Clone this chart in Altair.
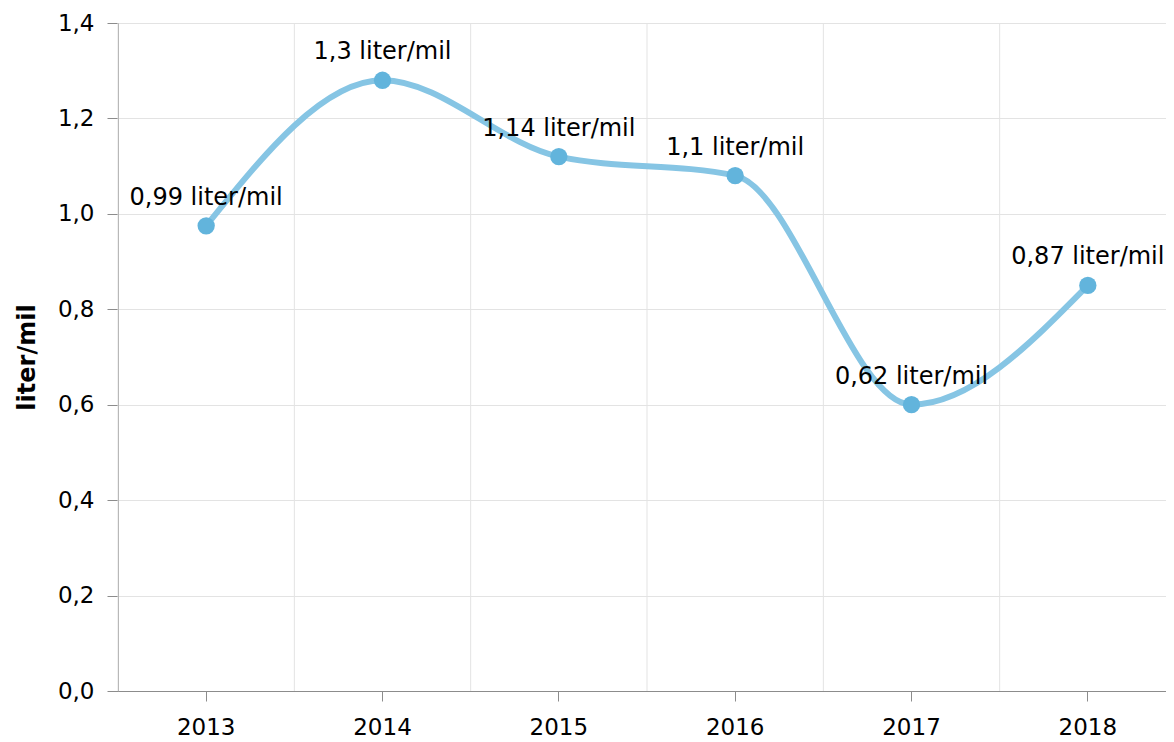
import altair as alt
import pandas as pd

years = ["2013", "2014", "2015", "2016", "2017", "2018"]
values = [0.975, 1.28, 1.12, 1.08, 0.60, 0.85]
labels = ["0,99 liter/mil", "1,3 liter/mil", "1,14 liter/mil", "1,1 liter/mil", "0,62 liter/mil", "0,87 liter/mil"]
y_ticks = [0.0, 0.2, 0.4, 0.6, 0.8, 1.0, 1.2, 1.4]

df = pd.DataFrame({"year": years, "value": values, "label": labels})

FONT = "DejaVu Sans"
FS = 23

xscale = alt.Scale(type="band", paddingInner=0, paddingOuter=0, range=[0, 1058])
yscale = alt.Scale(domain=[0, 1.4], nice=False)

x_axis = alt.Axis(title=None, domain=True, domainColor="#8c8c8c", tickColor="#8c8c8c",
                  tickSize=10, labelPadding=15, labelFontSize=FS, labelFont=FONT,
                  labelColor="#000000", grid=False, labelAngle=0)
y_axis = alt.Axis(title="liter/mil", values=y_ticks, domain=True, domainColor="#8c8c8c",
                  tickColor="#8c8c8c", tickSize=11, labelPadding=13, labelFontSize=FS,
                  labelFont=FONT, labelColor="#000000", titleFont=FONT, titleFontSize=24,
                  titleFontWeight="bold", titleColor="#000000", titlePadding=18,
                  gridColor="#e3e3e3", gridWidth=1,
                  labelExpr="replace(format(datum.value, '.1f'), '.', ',')")

base = alt.Chart(df)

rules = base.mark_rule(color="#e3e3e3", strokeWidth=1).encode(
    x=alt.X("year:N", scale=xscale, bandPosition=0, axis=x_axis, sort=years),
)

line = base.mark_line(interpolate="monotone", color="#86c5e4", strokeWidth=6).encode(
    x=alt.X("year:N", scale=xscale, bandPosition=0.5, sort=years),
    y=alt.Y("value:Q", scale=yscale, axis=y_axis),
)

points = base.mark_point(filled=True, color="#62b4dc", size=300, opacity=1).encode(
    x=alt.X("year:N", scale=xscale, bandPosition=0.5, sort=years),
    y=alt.Y("value:Q", scale=yscale),
)

text = base.mark_text(font=FONT, fontSize=24, color="#000000", dy=-28, baseline="middle", align="center").encode(
    x=alt.X("year:N", scale=xscale, bandPosition=0.5, sort=years),
    y=alt.Y("value:Q", scale=yscale),
    text="label:N",
)

chart = alt.layer(rules, line, points, text).properties(
    width=1048, height=668,
    autosize=alt.AutoSizeParams(type="none"),
    padding={"left": 110, "top": 15, "right": 0, "bottom": 48},
).configure_view(stroke=None).configure(background="white")

chart.save("out.html", embed_options={"renderer": "svg", "actions": False})
